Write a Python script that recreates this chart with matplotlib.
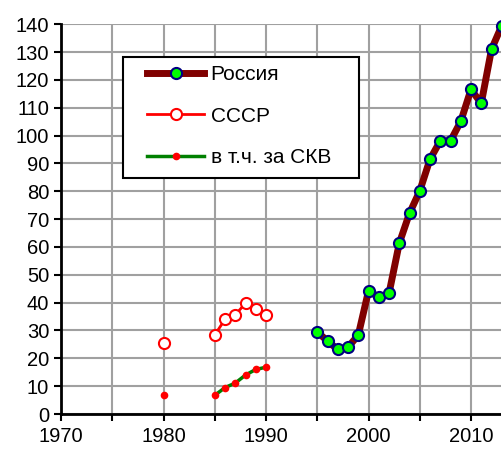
import matplotlib.pyplot as plt
import matplotlib.patches as mpatches
import numpy as np

plt.rcParams['font.family'] = ['Liberation Sans', 'DejaVu Sans']

# Россия
rus_years = list(range(1995, 2014))
rus_vals = [29.5, 26.2, 23.2, 24.0, 28.3, 44.2, 42.0, 43.3, 61.3, 72.1,
            80.1, 91.5, 98.1, 98.1, 105.1, 116.6, 111.6, 131.0, 139.5]

# СССР
ussr_years = list(range(1980, 1991))
ussr_vals = [25.4, np.nan, np.nan, np.nan, np.nan, 28.4, 34.0, 35.6, 39.8, 37.6, 35.6]

# в т.ч. за СКВ
skv_years = list(range(1980, 1991))
skv_vals = [6.7, np.nan, np.nan, np.nan, np.nan, 6.7, 9.5, 11.1, 14.0, 16.0, 16.8]

W, H = 502, 449
fig = plt.figure(figsize=(W/100, H/100), dpi=100)
ax = fig.add_axes([61/W, 35/H, 45*10.25/W, (414-24.3)/H])

ax.plot(rus_years, rus_vals, color='#800000', lw=5, marker='o', ms=8,
        mfc='#00ff00', mec='#000080', mew=1.5, label='Россия', clip_on=False, zorder=5)
ax.plot(ussr_years, ussr_vals, color='#ff0000', lw=2, marker='o', ms=8,
        mfc='white', mec='#ff0000', mew=1.5, label='СССР', clip_on=False, zorder=4)
ax.plot(skv_years, skv_vals, color='#008000', lw=2.5, marker='o', ms=5.5,
        mfc='#ff0000', mec='#ff0000', mew=0, label='в т.ч. за СКВ', clip_on=False, zorder=4)

ax.set_xlim(1970, 2015)
ax.set_ylim(0, 140)
ax.set_xticks(range(1970, 2016, 10))
ax.set_xticks(range(1975, 2016, 10), minor=True)
ax.set_yticks(range(0, 141, 10))
ax.grid(True, which='both', color='#a0a0a0', lw=1.5)
ax.set_axisbelow(True)
for s in ['top', 'right']:
    ax.spines[s].set_visible(False)
for s in ['left', 'bottom']:
    ax.spines[s].set_linewidth(2)
ax.tick_params(which='both', direction='out', length=5, width=1.5, labelsize=14.5)
ax.tick_params(axis='x', pad=4)

# legend box drawn separately, entries placed inside it
box = mpatches.Rectangle((123/W, 1-178/H), (359-123)/W, (178-57)/H,
                         transform=fig.transFigure, facecolor='white',
                         edgecolor='black', lw=1.5, zorder=10)
fig.patches.append(box)
leg = ax.legend(loc='upper left', bbox_to_anchor=(147/W, 1-65/H),
                bbox_transform=fig.transFigure, borderaxespad=0, fontsize=15,
                frameon=False, handlelength=2.75, labelspacing=1.08,
                handletextpad=0.3, borderpad=0)
leg.set_zorder(11)
leg.remove()
fig.legends.append(leg)

fig.savefig('out.png', dpi=100)
